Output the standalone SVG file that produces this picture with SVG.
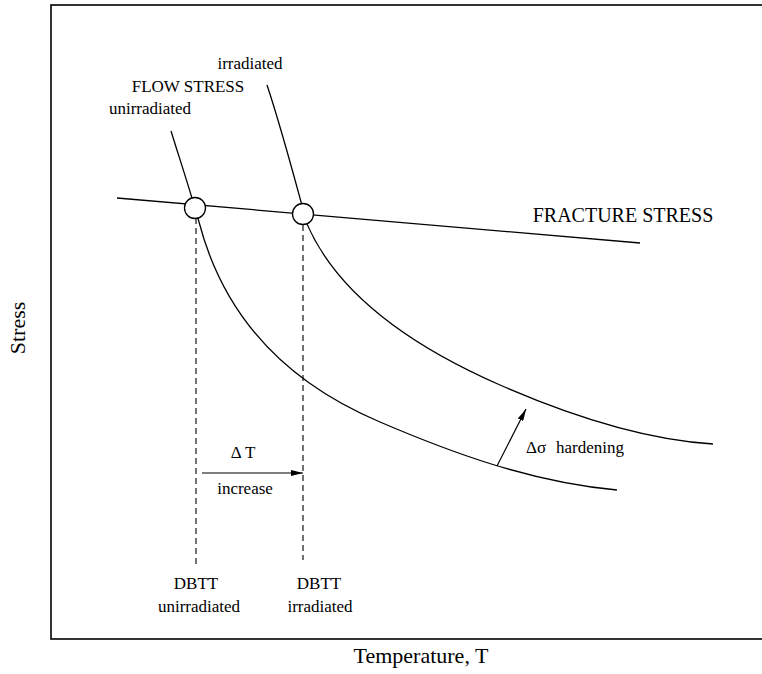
<svg xmlns="http://www.w3.org/2000/svg" width="762" height="674" viewBox="0 0 762 674">
  <style>
    text { font-family: "Liberation Serif", "Times New Roman", serif; fill: #000; }
    .curve { fill: none; stroke: #000; stroke-width: 1.3; }
    .dash { fill: none; stroke: #000; stroke-width: 1.1; stroke-dasharray: 6 4; }
    .ptr { fill: none; stroke: #000; stroke-width: 1.2; }
    .pt { fill: #fff; stroke: #000; stroke-width: 1.3; }
    .s17 { font-size: 17px; }
    .axis { font-size: 22px; }
  </style>
  <defs>
    <marker id="head" viewBox="0 0 12 6" refX="12" refY="3" markerWidth="12" markerHeight="6" markerUnits="userSpaceOnUse" orient="auto">
      <path d="M0,0 L12,3 L0,6 Z" fill="#000"/>
    </marker>
  </defs>

  <rect width="762" height="674" fill="#fff"/>

  <!-- plot frame -->
  <g id="frame">
    <rect x="51" y="5" width="740" height="634" fill="none" stroke="#000" stroke-width="1.6"/>
  </g>

  <!-- axis titles -->
  <g id="axes">
    <text class="axis" x="421" y="663" text-anchor="middle">Temperature, T</text>
    <text class="axis" font-size="24" transform="translate(25,328) rotate(-90)" text-anchor="middle">Stress</text>
  </g>

  <g id="connectors">
    <!-- fracture stress line -->
    <path class="curve" d="M117,198 L640,243"/>
    <!-- flow stress, unirradiated -->
    <path class="curve" d="M171,131 C180,160 190,190 199,222 C222,310 280,380 380,422 C450,452 530,482 617,490"/>
    <!-- flow stress, irradiated -->
    <path class="curve" d="M267,85 C282,130 295,180 307,224 C340,300 420,350 500,385 C580,420 650,440 713,444"/>
    <!-- DBTT markers -->
    <path class="dash" d="M196,218 V568"/>
    <path class="dash" d="M303,225 V560"/>
    <!-- shift and hardening pointers -->
    <path class="ptr" d="M202,473 H303" marker-end="url(#head)"/>
    <path class="ptr" d="M497,466 L526,409" marker-end="url(#head)"/>
  </g>

  <g id="point-unirradiated">
    <circle class="pt" cx="195" cy="208" r="10.5"/>
  </g>
  <g id="point-irradiated">
    <circle class="pt" cx="303" cy="214" r="10.5"/>
  </g>

  <g id="labels">
    <text class="s17" x="250" y="69" text-anchor="middle">irradiated</text>
    <text class="s17" x="188" y="92" text-anchor="middle">FLOW STRESS</text>
    <text class="s17" x="150" y="114" text-anchor="middle">unirradiated</text>
    <text x="623" y="222" text-anchor="middle" font-size="20">FRACTURE STRESS</text>
    <text class="s17" x="243" y="458" text-anchor="middle">Δ T</text>
    <text class="s17" x="245" y="494" text-anchor="middle">increase</text>
    <text class="s17" x="526" y="453">Δσ</text>
    <text class="s17" x="556" y="453">hardening</text>
    <text class="s17" x="196" y="589" text-anchor="middle">DBTT</text>
    <text class="s17" x="199" y="612" text-anchor="middle">unirradiated</text>
    <text class="s17" x="319" y="589" text-anchor="middle">DBTT</text>
    <text class="s17" x="320" y="612" text-anchor="middle">irradiated</text>
  </g>
</svg>
